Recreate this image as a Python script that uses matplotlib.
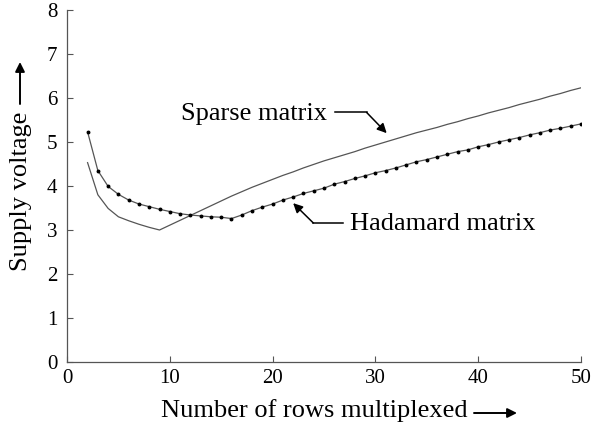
import numpy as np
import matplotlib
matplotlib.use("Agg")
import matplotlib.pyplot as plt
from matplotlib.patches import FancyArrowPatch

plt.rcParams['font.family'] = ['Liberation Serif', 'DejaVu Serif']

rows = np.arange(2, 51)

hadamard = [5.23, 4.35, 3.99, 3.81, 3.68, 3.59, 3.53, 3.47, 3.42, 3.37,
            3.34, 3.32, 3.30, 3.29, 3.26, 3.34, 3.44, 3.52, 3.59, 3.68,
            3.75, 3.83, 3.89, 3.95, 4.04, 4.10, 4.17, 4.23, 4.30, 4.35,
            4.41, 4.48, 4.55, 4.60, 4.66, 4.72, 4.78, 4.82, 4.89, 4.94,
            5.00, 5.05, 5.10, 5.16, 5.21, 5.27, 5.31, 5.36, 5.41]

sparse = [4.53, 3.80, 3.49, 3.30, 3.21, 3.13, 3.06, 3.00, 3.11, 3.22,
          3.33, 3.44, 3.55, 3.66, 3.77, 3.87, 3.97, 4.06, 4.15, 4.24,
          4.32, 4.41, 4.49, 4.57, 4.64, 4.71, 4.78, 4.86, 4.93, 5.00,
          5.07, 5.14, 5.21, 5.27, 5.33, 5.40, 5.46, 5.53, 5.59, 5.66,
          5.72, 5.78, 5.85, 5.91, 5.97, 6.04, 6.10, 6.17, 6.23]

fig = plt.figure(figsize=(5.91, 4.30), dpi=100)
ax = fig.add_axes([0.1134, 0.158, 0.8696, 0.819])

ax.plot(rows, sparse, color='#555555', lw=0.9)
ax.plot(rows, hadamard, color='#555555', lw=0.9, marker='o', ms=1.8,
        mfc='black', mec='black')

ax.set_xlim(0, 50)
ax.set_ylim(0, 8)
ax.set_xticks([0, 10, 20, 30, 40, 50])
ax.set_yticks(range(0, 9))
for s in ['top', 'right']:
    ax.spines[s].set_visible(False)
for s in ['left', 'bottom']:
    ax.spines[s].set_color('#555555')
    ax.spines[s].set_linewidth(0.9)
ax.tick_params(direction='in', length=4, width=0.8, color='#555555',
               labelsize=15)
ax.tick_params(axis='x', pad=5)
ax.tick_params(axis='y', pad=7)

# callouts
ax.plot([26.07, 29.15], [5.67, 5.67], color='black', lw=1.1)
ax.annotate('', xy=(31.1, 5.20), xytext=(29.15, 5.67),
            arrowprops=dict(arrowstyle='-|>', color='black', lw=1.1,
                            mutation_scale=14, shrinkA=0, shrinkB=0))
ax.text(25.3, 5.63, 'Sparse matrix', fontsize=19, ha='right', va='center')

ax.plot([26.85, 23.96], [3.16, 3.16], color='black', lw=1.1)
ax.annotate('', xy=(22.0, 3.61), xytext=(23.96, 3.16),
            arrowprops=dict(arrowstyle='-|>', color='black', lw=1.1,
                            mutation_scale=14, shrinkA=0, shrinkB=0))
ax.text(27.5, 3.13, 'Hadamard matrix', fontsize=19, ha='left', va='center')

# axis labels with arrows
fig.text(314 / 591, 1 - 411 / 430, 'Number of rows multiplexed', fontsize=19,
         ha='center', va='center')
fig.patches.append(FancyArrowPatch(
    (474 / 591, 1 - 413 / 430), (517 / 591, 1 - 413 / 430),
    transform=fig.transFigure, arrowstyle='-|>', mutation_scale=14,
    color='black', lw=1.4, shrinkA=0, shrinkB=0))

fig.text(21 / 591, 1 - 191 / 430, 'Supply voltage', fontsize=19,
         rotation=90, ha='center', va='center')
fig.patches.append(FancyArrowPatch(
    (20 / 591, 1 - 104 / 430), (20 / 591, 1 - 62 / 430),
    transform=fig.transFigure, arrowstyle='-|>', mutation_scale=14,
    color='black', lw=1.4, shrinkA=0, shrinkB=0))

fig.savefig('out.png', dpi=100)
